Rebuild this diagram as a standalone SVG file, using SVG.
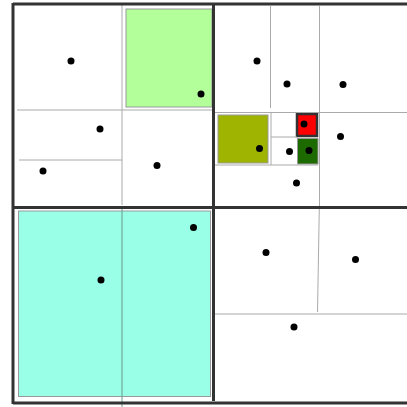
<svg xmlns="http://www.w3.org/2000/svg" width="407" height="407" viewBox="0 0 407 407">
<style>
.thin{stroke:#aaa;stroke-width:1;fill:none}
.thick{stroke:#333;stroke-width:3;fill:none}
.dot{fill:#000}
.box{stroke:#999;stroke-width:1}
</style>
<rect width="407" height="407" fill="#fff"/>
<g id="cells">
<rect id="green-box" class="box" x="126" y="9" width="86" height="98" fill="#b3ff99"/>
<rect id="cyan-box" class="box" x="18.5" y="211" width="192" height="185.5" fill="#99ffe6" stroke="#7aa"/>
<rect id="olive-box" class="box" x="218" y="115" width="50" height="48" fill="#9fb400"/>
<rect id="red-box" x="297" y="114" width="20" height="22" fill="#ff0000" stroke="#333" stroke-width="2.5"/>
<rect id="dkgreen-box" class="box" x="297.5" y="138.5" width="20.5" height="25.5" fill="#1d6b00"/>
</g>
<g id="connectors">
<line class="thin" x1="122" y1="5" x2="122" y2="205"/>
<line class="thin" x1="17" y1="110" x2="213" y2="110"/>
<line class="thin" x1="19" y1="160" x2="122" y2="160"/>
<line x1="122" y1="208" x2="122" y2="407" stroke="#6a9a8c" stroke-width="1"/>
<line class="thin" x1="270.5" y1="6" x2="270.5" y2="108"/>
<line class="thin" x1="319.5" y1="6" x2="319.5" y2="208"/>
<line class="thin" x1="213" y1="112.5" x2="407" y2="112.5"/>
<line class="thin" x1="213" y1="165" x2="318" y2="165"/>
<line class="thin" x1="271" y1="113" x2="271" y2="165"/>
<line class="thin" x1="271" y1="137" x2="297" y2="137"/>
<line class="thin" x1="319.3" y1="208" x2="317.5" y2="312"/>
<line class="thin" x1="213" y1="314" x2="407" y2="314"/>
<line class="thick" x1="13" y1="4" x2="407" y2="4"/>
<line class="thick" x1="13" y1="3" x2="13" y2="404"/>
<line class="thick" x1="13" y1="403" x2="407" y2="403"/>
<line class="thick" x1="213.5" y1="5" x2="213.5" y2="401"/>
<line class="thick" x1="13" y1="207.5" x2="407" y2="207.5"/>
</g>
<g id="points">
<circle class="dot" cx="71" cy="61" r="3.5"/>
<circle class="dot" cx="201" cy="94" r="3.5"/>
<circle class="dot" cx="100" cy="129" r="3.5"/>
<circle class="dot" cx="43" cy="171" r="3.5"/>
<circle class="dot" cx="157" cy="165.5" r="3.5"/>
<circle class="dot" cx="257" cy="61" r="3.5"/>
<circle class="dot" cx="287" cy="84" r="3.5"/>
<circle class="dot" cx="343" cy="84.5" r="3.5"/>
<circle class="dot" cx="304" cy="124" r="3.5"/>
<circle class="dot" cx="340.5" cy="136.5" r="3.5"/>
<circle class="dot" cx="259.5" cy="148.5" r="3.5"/>
<circle class="dot" cx="289.5" cy="151.5" r="3.5"/>
<circle class="dot" cx="309" cy="150.5" r="3.5"/>
<circle class="dot" cx="296.5" cy="183" r="3.5"/>
<circle class="dot" cx="101" cy="280" r="3.5"/>
<circle class="dot" cx="193.5" cy="227.5" r="3.5"/>
<circle class="dot" cx="266" cy="252.5" r="3.5"/>
<circle class="dot" cx="355.5" cy="259.5" r="3.5"/>
<circle class="dot" cx="294" cy="327" r="3.5"/>
</g>
</svg>
